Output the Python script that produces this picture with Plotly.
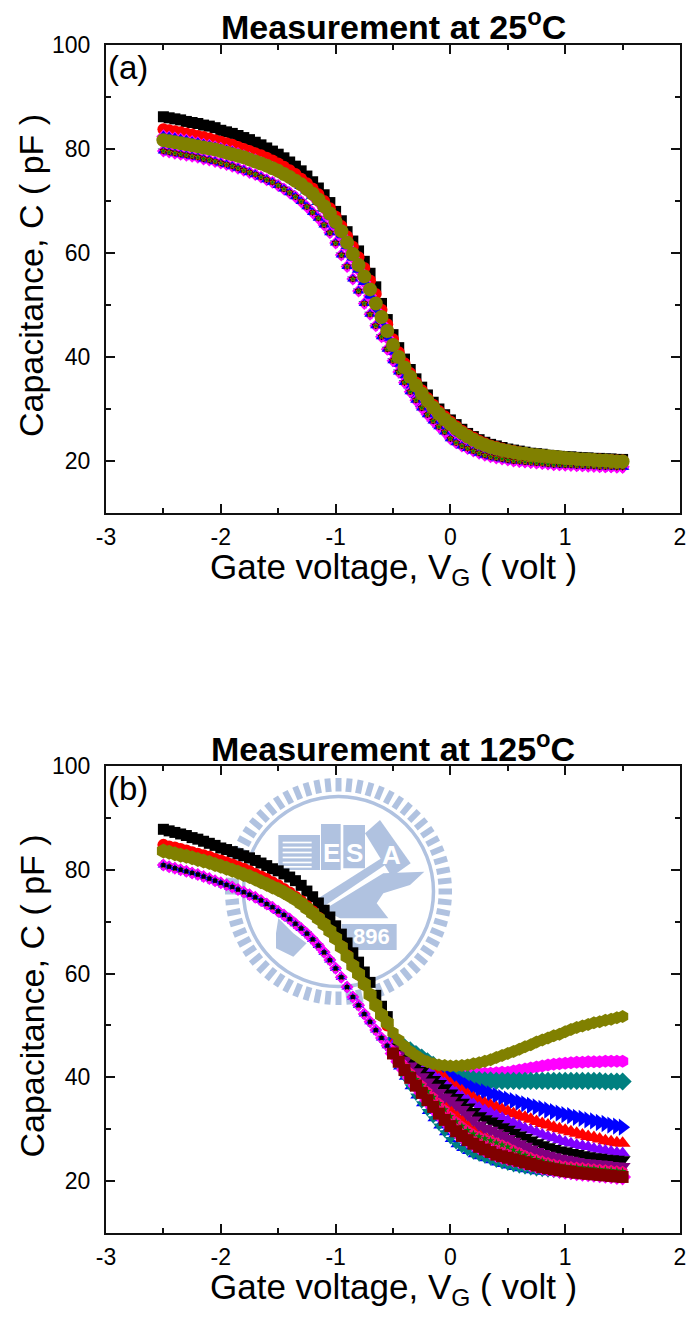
import math
import plotly.graph_objects as go

gate_voltage = [
 -2.50,-2.45,-2.40,-2.35,-2.30,-2.25,-2.20,-2.15,-2.10,-2.05,
 -2.00,-1.95,-1.90,-1.85,-1.80,-1.75,-1.70,-1.65,-1.60,-1.55,
 -1.50,-1.45,-1.40,-1.35,-1.30,-1.25,-1.20,-1.15,-1.10,-1.05,
 -1.00,-0.95,-0.90,-0.85,-0.80,-0.75,-0.70,-0.65,-0.60,-0.55,
 -0.50,-0.45,-0.40,-0.35,-0.30,-0.25,-0.20,-0.15,-0.10,-0.05,
 0.00,0.05,0.10,0.15,0.20,0.25,0.30,0.35,0.40,0.45,
 0.50,0.55,0.60,0.65,0.70,0.75,0.80,0.85,0.90,0.95,
 1.00,1.05,1.10,1.15,1.20,1.25,1.30,1.35,1.40,1.45,1.50]

# ---- panel (a), 25 C ----
a_black = [
 86.2,86.0,85.8,85.6,85.3,85.1,84.9,84.6,84.4,84.1,
 83.6,83.3,83.0,82.6,82.2,81.8,81.3,80.8,80.2,79.6,
 79.0,78.3,77.5,76.7,75.8,74.8,73.7,72.5,71.2,69.7,
 68.0,66.2,64.1,62.3,60.4,58.4,56.1,53.5,50.3,47.2,
 44.3,41.8,39.6,37.6,35.8,34.2,32.7,31.3,30.0,28.9,
 27.9,27.0,26.1,25.3,24.7,24.1,23.6,23.2,22.9,22.6,
 22.3,22.1,21.9,21.7,21.5,21.4,21.3,21.1,21.0,20.9,
 20.8,20.8,20.7,20.6,20.6,20.5,20.5,20.4,20.4,20.3,20.3]
a_red = [
 83.8,83.6,83.4,83.2,83.0,82.8,82.5,82.3,82.0,81.7,
 81.4,81.1,80.8,80.4,80.0,79.6,79.2,78.8,78.3,77.8,
 77.2,76.6,75.9,75.2,74.3,73.4,72.4,71.3,70.0,68.6,
 67.0,65.2,63.2,61.2,59.2,57.1,54.7,52.1,49.1,46.3,
 43.4,40.9,38.8,36.9,35.1,33.6,32.1,30.8,29.6,28.6,
 27.6,26.7,25.8,25.1,24.5,23.9,23.4,23.0,22.7,22.4,
 22.1,21.9,21.7,21.5,21.3,21.2,21.1,20.9,20.8,20.7,
 20.6,20.6,20.5,20.4,20.4,20.3,20.3,20.2,20.2,20.1,20.1]
a_blue = [
 82.4,82.2,82.0,81.8,81.6,81.3,81.1,80.8,80.6,80.3,
 80.0,79.7,79.4,79.0,78.6,78.2,77.8,77.3,76.8,76.3,
 75.7,75.1,74.4,73.7,72.9,72.0,71.0,69.8,68.5,67.0,
 65.3,63.4,61.3,59.1,56.8,54.4,51.8,49.0,46.4,43.7,
 41.0,38.7,36.5,34.5,32.7,31.0,29.5,28.2,27.0,25.9,
 25.0,24.2,23.5,22.9,22.4,21.9,21.5,21.2,20.9,20.7,
 20.5,20.3,20.1,20.0,19.9,19.8,19.7,19.6,19.5,19.4,
 19.4,19.3,19.3,19.2,19.2,19.1,19.1,19.0,19.0,19.0,18.9]
a_low = [
 79.6,79.4,79.2,79.0,78.8,78.6,78.4,78.1,77.9,77.6,
 77.3,77.0,76.7,76.3,75.9,75.5,75.1,74.6,74.1,73.6,
 73.0,72.3,71.6,70.8,69.9,68.9,67.8,66.7,65.4,63.9,
 61.9,59.6,57.4,55.0,52.7,50.3,48.2,46.0,43.9,41.5,
 39.3,37.1,35.1,33.3,31.7,30.2,28.9,27.7,26.6,25.6,
 24.3,23.5,22.9,22.4,21.9,21.5,21.1,20.8,20.6,20.4,
 20.2,20.0,19.9,19.8,19.7,19.6,19.5,19.4,19.3,19.3,
 19.2,19.2,19.1,19.1,19.0,19.0,18.9,18.9,18.9,18.8,18.8]
a_olive = [
 81.7,81.5,81.3,81.1,80.9,80.7,80.5,80.3,80.1,79.9,
 79.6,79.3,79.0,78.7,78.4,78.0,77.6,77.2,76.8,76.3,
 75.8,75.2,74.6,73.9,73.2,72.3,71.4,70.3,69.0,67.6,
 66.0,64.2,62.0,59.8,57.7,55.5,53.0,50.3,47.7,45.0,
 42.3,40.0,38.0,36.2,34.5,33.0,31.6,30.3,29.1,28.0,
 27.1,26.2,25.4,24.7,24.1,23.5,23.1,22.7,22.4,22.1,
 21.9,21.7,21.5,21.4,21.2,21.1,21.0,20.9,20.8,20.7,
 20.6,20.5,20.4,20.3,20.3,20.2,20.1,20.1,20.0,19.9,19.9]

# ---- panel (b), 125 C ----
b_black = [
 87.8,87.5,87.2,86.9,86.6,86.2,85.9,85.5,85.1,84.7,
 84.2,83.9,83.5,83.1,82.7,82.3,81.8,81.3,80.8,80.2,
 79.8,79.2,78.6,77.9,77.0,75.9,74.8,73.6,72.2,70.9,
 69.2,67.6,65.9,64.0,62.2,60.3,58.3,55.8,53.7,51.7,
 48.6,45.9,44.4,42.9,41.4,39.9,38.5,37.1,35.8,34.6,
 33.6,32.6,31.6,30.6,29.6,28.8,28.2,27.7,27.2,26.6,
 26.1,25.6,25.2,24.8,24.4,24.1,23.8,23.5,23.2,23.0,
 22.8,22.7,22.6,22.5,22.4,22.3,22.2,22.1,22.0,21.9,21.8]
b_red = [
 84.8,84.5,84.3,84.0,83.7,83.4,83.1,82.8,82.5,82.1,
 81.8,81.4,81.0,80.6,80.2,79.7,79.2,78.7,78.2,77.6,
 77.0,76.3,75.6,74.8,74.0,73.0,72.0,70.8,69.6,68.2,
 66.8,65.2,63.5,61.6,59.8,57.9,55.9,53.9,51.9,50.0,
 48.0,46.3,44.8,43.3,41.8,40.3,38.9,37.5,36.2,35.0,
 34.0,33.0,32.0,31.0,30.0,29.2,28.6,28.1,27.6,27.0,
 26.5,26.0,25.5,25.0,24.6,24.2,23.9,23.6,23.3,23.1,
 22.9,22.8,22.7,22.6,22.5,22.4,22.3,22.2,22.1,22.0,21.9]
b_olive = [
 83.6,83.4,83.1,82.8,82.6,82.3,82.0,81.7,81.4,81.0,
 80.7,80.3,79.9,79.5,79.1,78.7,78.2,77.7,77.2,76.7,
 76.2,75.6,75.0,74.3,73.5,72.6,71.6,70.6,69.5,68.2,
 66.8,65.1,63.3,61.5,59.9,58.0,55.9,53.9,52.0,50.5,
 48.6,47.2,46.0,45.0,44.2,43.5,43.0,42.6,42.4,42.3,
 42.2,42.2,42.3,42.4,42.6,42.8,43.1,43.4,43.8,44.2,
 44.6,45.0,45.4,45.9,46.3,46.8,47.2,47.6,48.0,48.3,
 48.8,49.2,49.6,49.9,50.2,50.5,50.7,51.0,51.2,51.5,51.7]
# shared forward part (-2.50 ... -0.55) of the lower bundle
b_low_left = [
 80.9,80.6,80.3,80.0,79.7,79.4,79.1,78.7,78.3,77.9,
 77.5,77.1,76.7,76.2,75.7,75.2,74.7,74.1,73.4,72.8,
 72.0,71.3,70.5,69.6,68.7,67.7,66.6,65.4,64.1,62.6,
 61.0,59.3,57.4,55.5,53.9,52.2,50.7,49.1,47.6,46.1]
# tails (-0.50 ... 1.50)
b_tail_bottom = [
 44.0,42.0,40.0,38.2,36.4,34.9,33.4,32.0,30.6,29.3,
 28.0,27.0,26.3,25.7,25.1,24.7,24.3,23.9,23.5,23.2,
 22.9,22.6,22.4,22.2,22.0,21.8,21.7,21.6,21.5,21.4,
 21.3,21.2,21.1,21.0,21.0,20.9,20.9,20.8,20.8,20.7,20.7]
b_tail_darkred = [
 44.6,43.0,41.4,39.9,38.4,37.0,35.6,34.3,33.0,31.8,
 30.6,29.6,28.7,27.9,27.2,26.6,26.1,25.6,25.1,24.8,
 24.5,24.2,23.9,23.6,23.3,23.0,22.7,22.5,22.3,22.1,
 21.9,21.8,21.6,21.5,21.4,21.3,21.2,21.1,21.0,20.9,20.8]
b_tail_pink = [
 45.0,43.6,42.2,40.9,39.6,38.5,37.3,36.2,35.0,33.8,
 32.5,31.5,30.6,29.8,29.1,28.6,28.2,27.8,27.4,27.0,
 26.6,26.0,25.5,25.0,24.6,24.2,23.9,23.6,23.3,23.1,
 22.9,22.8,22.7,22.6,22.5,22.4,22.3,22.2,22.1,22.0,21.9]
b_tail_darkpurple = [
 45.5,44.4,43.3,42.2,41.1,40.1,39.1,38.1,37.1,36.2,
 35.6,34.7,33.8,32.8,31.8,30.8,30.2,29.8,29.3,28.8,
 28.2,27.7,27.2,26.7,26.2,25.7,25.3,25.0,24.7,24.4,
 24.2,24.0,23.8,23.6,23.5,23.4,23.3,23.2,23.0,22.9,22.8]
b_tail_blacktri = [
 45.9,44.9,44.0,43.1,42.2,41.3,40.4,39.6,38.8,38.0,
 37.0,36.1,35.2,34.3,33.4,32.6,32.0,31.6,31.1,30.5,
 30.0,29.4,28.9,28.4,27.9,27.4,27.0,26.6,26.3,26.0,
 25.8,25.5,25.3,25.1,24.9,24.7,24.6,24.4,24.3,24.2,24.1]
b_tail_violet = [
 46.2,45.3,44.5,43.7,42.9,42.1,41.3,40.5,39.7,38.9,
 37.9,37.1,36.3,35.6,34.9,34.2,33.7,33.2,32.7,32.2,
 31.7,31.2,30.7,30.2,29.8,29.4,29.0,28.6,28.3,27.9,
 27.6,27.3,27.0,26.8,26.6,26.3,26.1,25.9,25.7,25.5,25.4]
b_tail_red = [
 46.5,45.7,45.0,44.3,43.6,42.9,42.2,41.4,40.6,39.8,
 38.8,38.1,37.4,36.7,36.0,35.4,35.0,34.6,34.2,33.8,
 33.4,33.0,32.6,32.3,31.9,31.5,31.1,30.8,30.4,30.1,
 29.8,29.5,29.2,28.9,28.6,28.4,28.1,27.8,27.6,27.4,27.3]
b_tail_blue = [
 46.8,46.1,45.5,44.9,44.2,43.5,42.9,42.2,41.5,41.0,
 40.2,39.6,39.0,38.4,37.9,37.5,37.2,36.8,36.5,36.1,
 35.8,35.5,35.2,34.9,34.6,34.3,34.0,33.7,33.4,33.1,
 32.8,32.6,32.3,32.1,31.8,31.6,31.3,31.1,30.8,30.6,30.4]
b_tail_teal = [
 47.0,46.4,45.8,45.2,44.5,43.8,43.1,42.4,41.7,41.0,
 40.4,40.1,39.9,39.7,39.6,39.5,39.4,39.4,39.3,39.3,
 39.3,39.3,39.3,39.3,39.3,39.3,39.3,39.3,39.3,39.3,
 39.3,39.3,39.3,39.3,39.3,39.3,39.3,39.2,39.2,39.2,39.2]
b_tail_magenta = [
 47.1,46.5,45.9,45.3,44.6,43.9,43.2,42.5,41.8,41.2,
 40.8,40.7,40.7,40.7,40.7,40.8,40.8,40.8,40.9,41.0,
 41.0,41.2,41.4,41.6,41.8,42.0,42.2,42.4,42.5,42.6,
 42.7,42.8,42.9,42.9,43.0,43.0,43.0,43.1,43.1,43.1,43.1]

x_ticks = [-3, -2, -1, 0, 1, 2]
x_tick_labels = ["-3", "-2", "-1", "0", "1", "2"]
y_ticks = [20, 40, 60, 80, 100]
titles = ["Measurement at 25<sup>o</sup>C", "Measurement at 125<sup>o</sup>C"]
x_title = "Gate voltage, V<sub>G</sub> ( volt )"
y_title = "Capacitance, C ( pF )"
panel_tags = ["(a)", "(b)"]

W, H = 689, 1318
fig = go.Figure()
def px(v): return v / W
def py(v): return 1 - v / H

# (series, colour, symbol, size on the shared part, size on the tail)
panel_a = [
 (a_black, "#000000", "square", 11, 11),
 (a_red, "#ff0000", "circle", 12, 12),
 (a_blue, "#ff00ff", "diamond", 11, 11),
 (a_blue, "#0000ff", "triangle-up", 12, 12),
 (a_low, "#008080", "triangle-down", 10, 10),
 (a_low, "#8000ff", "triangle-left", 9, 9),
 (a_low, "#ff00ff", "diamond", 10, 10),
 (a_low, "#0000ff", "triangle-up", 10, 10),
 (a_low, "#000000", "triangle-down", 7, 7),
 (a_low, "#800000", "square", 5, 5),
 (a_low, "#ff8000", "star", 5, 5),
 (a_low, "#008000", "star", 4, 4),
 (a_olive, "#808000", "circle", 14, 14),
]
panel_b = [
 (b_black, "#000000", "square", 11, 8),
 (b_red, "#ff0000", "circle", 12, 8),
 (b_low_left + b_tail_magenta, "#ff00ff", "hexagon", 9, 13),
 (b_low_left + b_tail_teal, "#008080", "diamond", 9, 14),
 (b_low_left + b_tail_blue, "#0000ff", "triangle-right", 9, 15),
 (b_low_left + b_tail_red, "#ff0000", "triangle-up", 8, 14),
 (b_low_left + b_tail_violet, "#8000ff", "triangle-up", 8, 13),
 (b_low_left + b_tail_blacktri, "#000000", "triangle-down", 8, 14),
 (b_low_left + b_tail_bottom, "#0000ff", "triangle-up", 10, 10),
 (b_low_left + b_tail_bottom, "#008080", "triangle-down", 9, 10),
 (b_low_left + b_tail_darkpurple, "#800080", "triangle-down", 7, 14),
 (b_low_left + b_tail_darkred, "#ff00ff", "diamond", 10, 13),
 (b_low_left + b_tail_pink, "#ff0080", "pentagon", 6, 11),
 (b_low_left + b_tail_pink, "#008000", "star", 6, 6),
 (b_low_left + b_tail_darkred, "#800000", "square", 4, 12),
 (b_low_left, "#0000ff", "triangle-up", 7, 7),
 (b_low_left, "#000000", "square", 4, 4),
 (b_olive, "#808000", "hexagon", 15, 13),
]
SPLIT = 40

for i, traces in enumerate([panel_a, panel_b]):
    xa, ya = ("x", "y") if i == 0 else ("x2", "y2")
    for vals, col, sym, s_left, s_tail in traces:
        sizes = [s_left] * SPLIT + [s_tail] * (len(vals) - SPLIT)
        fig.add_trace(go.Scatter(x=gate_voltage[:len(vals)], y=vals, xaxis=xa, yaxis=ya, mode="markers",
                                 marker=dict(color=col, symbol=sym, size=sizes, opacity=1, line=dict(width=0)),
                                 showlegend=False, hoverinfo="skip"))

tops = [45, 766]
bots = [513, 1233]
axis_font = dict(family="Liberation Sans", size=23, color="black")
for i in range(2):
    sfx = "" if i == 0 else "2"
    common = dict(showgrid=False, zeroline=False, showline=True, linecolor="#111111", linewidth=2,
                  mirror="ticks", ticks="inside", tickcolor="#111111", tickwidth=2, ticklen=9,
                  tickfont=axis_font)
    fig.update_layout({
        "xaxis" + sfx: dict(domain=[px(106), px(680)], range=[-3, 2], tickvals=x_ticks,
                            ticktext=x_tick_labels, anchor="y" + sfx, ticklabelstandoff=2,
                            minor=dict(dtick=0.5, tick0=-2.5, ticks="inside", ticklen=5, tickwidth=2, tickcolor="#111111"),
                            **common),
        "yaxis" + sfx: dict(domain=[py(bots[i]), py(tops[i])], range=[10, 100], tickvals=y_ticks,
                            anchor="x" + sfx, ticklabelstandoff=9,
                            minor=dict(dtick=10, tick0=10, ticks="inside", ticklen=5, tickwidth=2, tickcolor="#111111"),
                            **common),
    })

def note(x, y, text, size, xanchor="center", angle=0, color="black"):
    return dict(x=x, y=y, text=text, showarrow=False, xanchor=xanchor, yanchor="middle", textangle=angle,
                xref="paper", yref="paper", font=dict(family="Liberation Sans", size=size, color=color))

ann = []
for i in range(2):
    ann.append(note(px(393), py(tops[i] - 20), "<b>%s</b>" % titles[i], 34))
    ann.append(note(px(393), py(bots[i] + 56), x_title, 35))
    ann.append(note(px(31), py((tops[i] + bots[i]) / 2 - 3), y_title, 34, angle=-90))
    ann.append(note(px(106), py(tops[i] + 22), panel_tags[i], 33, xanchor="left"))

# ---- pale watermark seal behind panel (b) ----
SEAL = "#b0c2e0"
cx, cy, R = 338.5, 891.5, 113.5
def zx(X): return px(90 + X / 3)
def zy(Y): return py(730 + Y / 3)
def poly(points, color=SEAL):
    d = "M " + " L ".join("%.5f,%.5f" % (zx(a), zy(b)) for a, b in points) + " Z"
    return dict(type="path", path=d, xref="paper", yref="paper", fillcolor=color,
                line=dict(width=0), layer="below")
shapes = []
n_ticks = 64
for k in range(n_ticks):
    a = 2 * math.pi * k / n_ticks
    shapes.append(dict(type="line", xref="paper", yref="paper", layer="below",
                       x0=px(cx + 100 * math.cos(a)), y0=py(cy + 100 * math.sin(a)),
                       x1=px(cx + R * math.cos(a)), y1=py(cy + R * math.sin(a)),
                       line=dict(color=SEAL, width=6)))
shapes.append(dict(type="circle", xref="paper", yref="paper", layer="below",
                   x0=px(cx - 95), x1=px(cx + 95), y0=py(cy - 95), y1=py(cy + 95),
                   line=dict(color=SEAL, width=3.5), fillcolor="rgba(0,0,0,0)"))
# striped book + books + tilted book
shapes.append(poly([(565, 315), (690, 315), (690, 420), (565, 420)]))
for Y in (335, 350, 365, 380, 395, 408):
    shapes.append(poly([(578, Y), (665, Y), (665, Y + 5), (578, Y + 5)], "#ffffff"))
shapes.append(poly([(693, 282), (752, 282), (752, 420), (693, 420)]))
shapes.append(poly([(760, 285), (825, 285), (825, 415), (760, 415)]))
shapes.append(poly([(870, 270), (962, 400), (905, 440), (825, 310)]))
# hammer band, anvil, base, boot
shapes.append(poly([(685, 505), (905, 365), (915, 385), (700, 530)]))
shapes.append(poly([(700, 540), (880, 430), (1003, 425), (960, 465), (880, 490), (860, 520), (895, 565), (750, 565)]))
shapes.append(poly([(755, 582), (920, 582), (920, 660), (755, 660)]))
shapes.append(poly([(565, 565), (610, 610), (650, 640), (610, 680), (558, 655), (558, 610)]))
fig.update_layout(shapes=shapes)
for txt, X, Y, s in [("E", 723, 368, 26), ("S", 792, 368, 26), ("A", 905, 375, 26), ("896", 845, 620, 22)]:
    ann.append(note(zx(X), zy(Y), "<b>%s</b>" % txt, s, color="white"))

fig.update_layout(width=W, height=H, margin=dict(l=0, r=0, t=0, b=0, autoexpand=False), paper_bgcolor="white",
                  plot_bgcolor="rgba(0,0,0,0)", annotations=ann, showlegend=False)
fig.write_html("out.html", config=dict(displayModeBar=False), post_script="document.body.style.margin='0';")
